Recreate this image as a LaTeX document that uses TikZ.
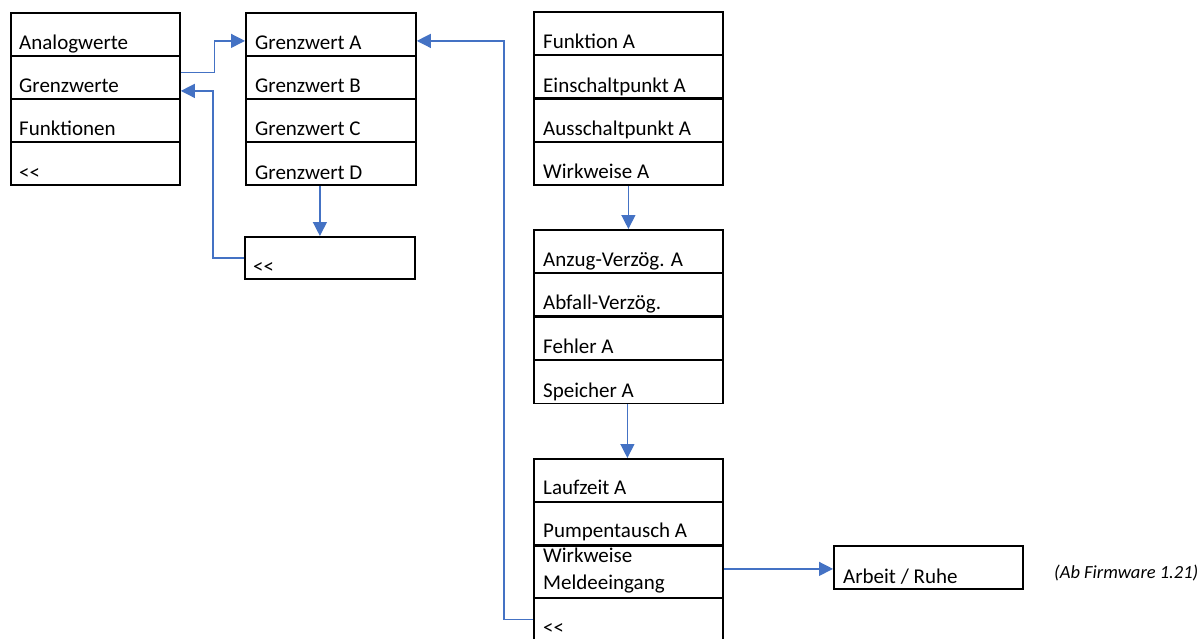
\documentclass[tikz,border=0pt]{standalone}
\usepackage{fontspec}
\setmainfont{Carlito}
\usetikzlibrary{calc,arrows.meta}
\definecolor{connblue}{HTML}{4472C4}
\tikzset{
  row/.style={draw=black,line width=1.8pt,inner sep=0pt,minimum width=#1,anchor=north west,minimum height=43pt},
  lbl/.style={anchor=base west,inner sep=0pt,font=\fontsize{21}{24}\selectfont},
  conn/.style={draw=connblue,line width=1.3pt,-{Triangle[length=14pt,width=14pt]}}
}
\begin{document}
\begin{tikzpicture}[x=1pt,y=-1pt]
\useasboundingbox (0,0) rectangle (1201,639);
% left box
\node[row=169pt] (la) at (10,12) {};
\node[row=169pt] (lg) at (10,55) {};
\node[row=169pt] (lf) at (10,98) {};
\node[row=169pt] (lb) at (10,141.5) {};
\node[lbl] (tla) at ($(la.south west)+(9,-7)$) {Analogwerte};
\node[lbl] (tlg) at ($(lg.south west)+(9,-7)$) {Grenzwerte};
\node[lbl] (tlf) at ($(lf.south west)+(9,-7)$) {Funktionen};
\node[lbl] (tlb) at ($(lb.south west)+(9,-7)$) {<{}<};
% grenzwert box
\node[row=170pt] (ga) at (245,12) {};
\node[row=170pt] (gb) at (245,55) {};
\node[row=170pt] (gc) at (245,98) {};
\node[row=170pt] (gd) at (245,141.5) {};
\node[lbl] (tga) at ($(ga.south west)+(10,-7)$) {Grenzwert A};
\node[lbl] (tgb) at ($(gb.south west)+(10,-7)$) {Grenzwert B};
\node[lbl] (tgc) at ($(gc.south west)+(10,-7)$) {Grenzwert C};
\node[lbl] (tgd) at ($(gd.south west)+(10,-7)$) {Grenzwert D};
% back box
\node[row=170pt,minimum height=42pt] (bk) at (244,236) {};
\node[lbl] (tbk) at ($(bk.south west)+(9,-6)$) {<{}<};
% funktion box
\node[row=189pt] (fa) at (533,11) {};
\node[row=189pt] (fe) at (533,54.5) {};
\node[row=189pt] (fs) at (533,98) {};
\node[row=189pt] (fw) at (533,141) {};
\node[lbl] (tfa) at ($(fa.south west)+(10,-7)$) {Funktion A};
\node[lbl] (tfe) at ($(fe.south west)+(10,-7)$) {Einschaltpunkt A};
\node[lbl] (tfs) at ($(fs.south west)+(10,-7)$) {Ausschaltpunkt A};
\node[lbl] (tfw) at ($(fw.south west)+(10,-7)$) {Wirkweise A};
% verzoeg box
\node[row=189pt] (va) at (533,229) {};
\node[row=189pt] (vb) at (533,272) {};
\node[row=189pt] (vf) at (533,316) {};
\node[row=189pt] (vs) at (533,359.5) {};
\node[lbl] (tva) at ($(va.south west)+(10,-7)$) {Anzug-Verzög. A};
\node[lbl] (tvb) at ($(vb.south west)+(10,-7)$) {Abfall-Verzög.};
\node[lbl] (tvf) at ($(vf.south west)+(10,-7)$) {Fehler A};
\node[lbl] (tvs) at ($(vs.south west)+(10,-7)$) {Speicher A};
% bottom box
\node[row=189pt] (ba) at (533,458) {};
\node[row=189pt] (bp) at (533,501) {};
\node[row=189pt,minimum height=52pt] (bw) at (533,545) {};
\node[row=189pt] (bb) at (533,597) {};
\node[lbl] (tba) at ($(ba.south west)+(10,-8)$) {Laufzeit A};
\node[lbl] (tbp) at ($(bp.south west)+(10,-8)$) {Pumpentausch A};
\node[lbl] (tbw1) at ($(bw.north west)+(10,17)$) {Wirkweise};
\node[lbl] (tbw2) at ($(bw.north west)+(10,44)$) {Meldeeingang};
\node[lbl] (tbb) at ($(bb.north west)+(10,37)$) {<{}<};
% arbeit box
\node[row=189pt] (ar) at (833,545) {};
\node[lbl] (tar) at ($(ar.south west)+(10,-6)$) {Arbeit / Ruhe};
\node[anchor=base west,inner sep=0pt,font=\fontsize{18.5}{21}\selectfont\itshape] (fw121) at (1054,578) {(Ab Firmware 1.21)};
% connectors
\draw[conn] ($(lg.east)+(0,-5)$) -- ++(34,0) |- ($(ga.west)+(0,6.5)$);
\draw[conn] (bk.west) -- ++(-31,0) |- ($(lg.east)+(0,13.5)$);
\draw[conn] ($(gd.south)+(-11,0)$) -- ($(bk.north)+(-10,0)$);
\draw[conn] (fw.south) -- (va.north);
\draw[conn] ($(vs.south)+(-1,0)$) -- ($(ba.north)+(-1,0)$);
\draw[conn] (bb.west) -- ++(-29,0) |- ($(ga.east)+(0,6.5)$);
\coordinate (mstart) at ($(bw.east)+(0,-3)$);
\draw[conn] (mstart) -- (mstart -| ar.west);
\end{tikzpicture}
\end{document}
